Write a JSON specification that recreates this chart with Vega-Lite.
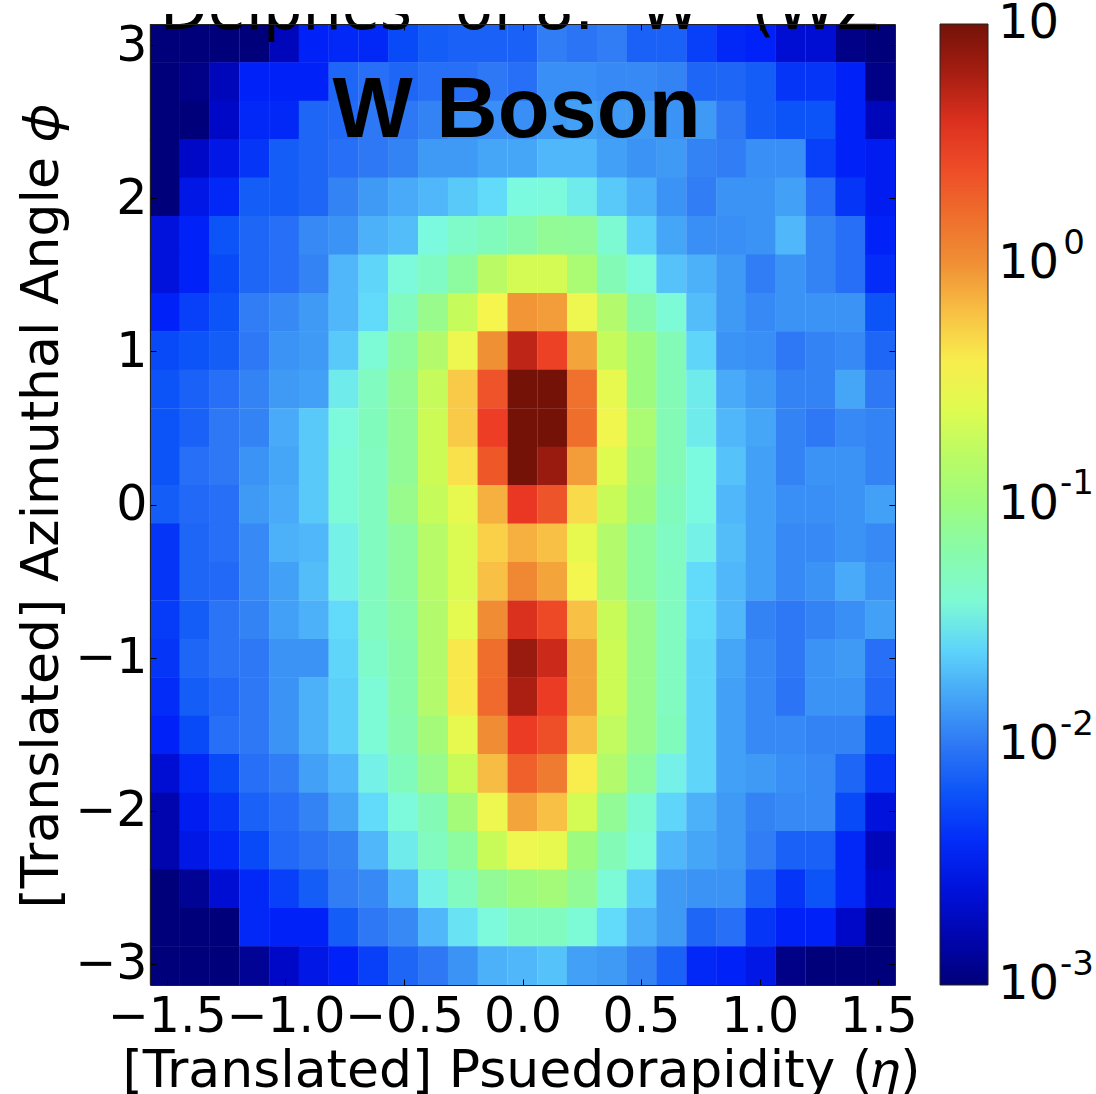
{"$schema":"https://vega.github.io/schema/vega-lite/v6.json","autosize":"none","padding":{"left":150,"top":24,"right":201,"bottom":109},"width":745,"height":961,"background":"white","config":{"view":{"stroke":null},"font":"DejaVu Sans"},
"datasets":{"cells":[
{"eta":-1.508,"phi":3.014,"v":-3},{"eta":-1.382,"phi":3.014,"v":-3},{"eta":-1.257,"phi":3.014,"v":-3},{"eta":-1.131,"phi":3.014,"v":-3},{"eta":-1.005,"phi":3.014,"v":-2.75},{"eta":-0.88,"phi":3.014,"v":-2.45},{"eta":-0.754,"phi":3.014,"v":-2.42},{"eta":-0.628,"phi":3.014,"v":-2.42},{"eta":-0.503,"phi":3.014,"v":-2.25},{"eta":-0.377,"phi":3.014,"v":-2.15},{"eta":-0.251,"phi":3.014,"v":-2.12},{"eta":-0.126,"phi":3.014,"v":-2.12},{"eta":0,"phi":3.014,"v":-2.12},{"eta":0.126,"phi":3.014,"v":-1.98},{"eta":0.251,"phi":3.014,"v":-2.02},{"eta":0.377,"phi":3.014,"v":-1.98},{"eta":0.503,"phi":3.014,"v":-2.12},{"eta":0.628,"phi":3.014,"v":-2.12},{"eta":0.754,"phi":3.014,"v":-2.3},{"eta":0.88,"phi":3.014,"v":-2.42},{"eta":1.005,"phi":3.014,"v":-2.45},{"eta":1.131,"phi":3.014,"v":-2.65},{"eta":1.257,"phi":3.014,"v":-2.65},{"eta":1.382,"phi":3.014,"v":-2.95},{"eta":1.508,"phi":3.014,"v":-3},
{"eta":-1.508,"phi":2.763,"v":-3},{"eta":-1.382,"phi":2.763,"v":-2.95},{"eta":-1.257,"phi":2.763,"v":-2.75},{"eta":-1.131,"phi":2.763,"v":-2.45},{"eta":-1.005,"phi":2.763,"v":-2.45},{"eta":-0.88,"phi":2.763,"v":-2.45},{"eta":-0.754,"phi":2.763,"v":-2.1},{"eta":-0.628,"phi":2.763,"v":-2.05},{"eta":-0.503,"phi":2.763,"v":-2.1},{"eta":-0.377,"phi":2.763,"v":-2.05},{"eta":-0.251,"phi":2.763,"v":-2.05},{"eta":-0.126,"phi":2.763,"v":-2},{"eta":0,"phi":2.763,"v":-2.05},{"eta":0.126,"phi":2.763,"v":-1.9},{"eta":0.251,"phi":2.763,"v":-1.9},{"eta":0.377,"phi":2.763,"v":-1.92},{"eta":0.503,"phi":2.763,"v":-1.92},{"eta":0.628,"phi":2.763,"v":-1.95},{"eta":0.754,"phi":2.763,"v":-2.1},{"eta":0.88,"phi":2.763,"v":-2.1},{"eta":1.005,"phi":2.763,"v":-2.15},{"eta":1.131,"phi":2.763,"v":-2.35},{"eta":1.257,"phi":2.763,"v":-2.35},{"eta":1.382,"phi":2.763,"v":-2.45},{"eta":1.508,"phi":2.763,"v":-2.95},
{"eta":-1.508,"phi":2.512,"v":-3},{"eta":-1.382,"phi":2.512,"v":-3},{"eta":-1.257,"phi":2.512,"v":-2.7},{"eta":-1.131,"phi":2.512,"v":-2.42},{"eta":-1.005,"phi":2.512,"v":-2.42},{"eta":-0.88,"phi":2.512,"v":-2.1},{"eta":-0.754,"phi":2.512,"v":-2.08},{"eta":-0.628,"phi":2.512,"v":-2},{"eta":-0.503,"phi":2.512,"v":-2},{"eta":-0.377,"phi":2.512,"v":-1.95},{"eta":-0.251,"phi":2.512,"v":-1.9},{"eta":-0.126,"phi":2.512,"v":-1.9},{"eta":0,"phi":2.512,"v":-1.9},{"eta":0.126,"phi":2.512,"v":-1.85},{"eta":0.251,"phi":2.512,"v":-1.82},{"eta":0.377,"phi":2.512,"v":-1.85},{"eta":0.503,"phi":2.512,"v":-1.85},{"eta":0.628,"phi":2.512,"v":-1.88},{"eta":0.754,"phi":2.512,"v":-1.85},{"eta":0.88,"phi":2.512,"v":-2},{"eta":1.005,"phi":2.512,"v":-2.15},{"eta":1.131,"phi":2.512,"v":-2.2},{"eta":1.257,"phi":2.512,"v":-2.2},{"eta":1.382,"phi":2.512,"v":-2.45},{"eta":1.508,"phi":2.512,"v":-2.75},
{"eta":-1.508,"phi":2.261,"v":-3},{"eta":-1.382,"phi":2.261,"v":-2.7},{"eta":-1.257,"phi":2.261,"v":-2.55},{"eta":-1.131,"phi":2.261,"v":-2.35},{"eta":-1.005,"phi":2.261,"v":-2.15},{"eta":-0.88,"phi":2.261,"v":-2.1},{"eta":-0.754,"phi":2.261,"v":-2.05},{"eta":-0.628,"phi":2.261,"v":-2},{"eta":-0.503,"phi":2.261,"v":-1.95},{"eta":-0.377,"phi":2.261,"v":-1.85},{"eta":-0.251,"phi":2.261,"v":-1.85},{"eta":-0.126,"phi":2.261,"v":-1.8},{"eta":0,"phi":2.261,"v":-1.8},{"eta":0.126,"phi":2.261,"v":-1.72},{"eta":0.251,"phi":2.261,"v":-1.72},{"eta":0.377,"phi":2.261,"v":-1.82},{"eta":0.503,"phi":2.261,"v":-1.88},{"eta":0.628,"phi":2.261,"v":-1.85},{"eta":0.754,"phi":2.261,"v":-1.95},{"eta":0.88,"phi":2.261,"v":-1.98},{"eta":1.005,"phi":2.261,"v":-1.9},{"eta":1.131,"phi":2.261,"v":-1.9},{"eta":1.257,"phi":2.261,"v":-2.3},{"eta":1.382,"phi":2.261,"v":-2.45},{"eta":1.508,"phi":2.261,"v":-2.5},
{"eta":-1.508,"phi":2.01,"v":-3},{"eta":-1.382,"phi":2.01,"v":-2.55},{"eta":-1.257,"phi":2.01,"v":-2.42},{"eta":-1.131,"phi":2.01,"v":-2.15},{"eta":-1.005,"phi":2.01,"v":-2.15},{"eta":-0.88,"phi":2.01,"v":-2.1},{"eta":-0.754,"phi":2.01,"v":-1.95},{"eta":-0.628,"phi":2.01,"v":-1.85},{"eta":-0.503,"phi":2.01,"v":-1.78},{"eta":-0.377,"phi":2.01,"v":-1.72},{"eta":-0.251,"phi":2.01,"v":-1.65},{"eta":-0.126,"phi":2.01,"v":-1.58},{"eta":0,"phi":2.01,"v":-1.47},{"eta":0.126,"phi":2.01,"v":-1.45},{"eta":0.251,"phi":2.01,"v":-1.52},{"eta":0.377,"phi":2.01,"v":-1.65},{"eta":0.503,"phi":2.01,"v":-1.75},{"eta":0.628,"phi":2.01,"v":-1.88},{"eta":0.754,"phi":2.01,"v":-1.98},{"eta":0.88,"phi":2.01,"v":-1.88},{"eta":1.005,"phi":2.01,"v":-1.88},{"eta":1.131,"phi":2.01,"v":-1.82},{"eta":1.257,"phi":2.01,"v":-2.05},{"eta":1.382,"phi":2.01,"v":-2.35},{"eta":1.508,"phi":2.01,"v":-2.5},
{"eta":-1.508,"phi":1.758,"v":-2.6},{"eta":-1.382,"phi":1.758,"v":-2.45},{"eta":-1.257,"phi":1.758,"v":-2.2},{"eta":-1.131,"phi":1.758,"v":-2.1},{"eta":-1.005,"phi":1.758,"v":-2.05},{"eta":-0.88,"phi":1.758,"v":-1.92},{"eta":-0.754,"phi":1.758,"v":-1.88},{"eta":-0.628,"phi":1.758,"v":-1.75},{"eta":-0.503,"phi":1.758,"v":-1.7},{"eta":-0.377,"phi":1.758,"v":-1.47},{"eta":-0.251,"phi":1.758,"v":-1.35},{"eta":-0.126,"phi":1.758,"v":-1.28},{"eta":0,"phi":1.758,"v":-1.2},{"eta":0.126,"phi":1.758,"v":-1.1},{"eta":0.251,"phi":1.758,"v":-1.12},{"eta":0.377,"phi":1.758,"v":-1.4},{"eta":0.503,"phi":1.758,"v":-1.62},{"eta":0.628,"phi":1.758,"v":-1.8},{"eta":0.754,"phi":1.758,"v":-1.9},{"eta":0.88,"phi":1.758,"v":-1.9},{"eta":1.005,"phi":1.758,"v":-1.88},{"eta":1.131,"phi":1.758,"v":-1.72},{"eta":1.257,"phi":1.758,"v":-1.95},{"eta":1.382,"phi":1.758,"v":-2.05},{"eta":1.508,"phi":1.758,"v":-2.45},
{"eta":-1.508,"phi":1.507,"v":-2.6},{"eta":-1.382,"phi":1.507,"v":-2.45},{"eta":-1.257,"phi":1.507,"v":-2.25},{"eta":-1.131,"phi":1.507,"v":-2.1},{"eta":-1.005,"phi":1.507,"v":-2.05},{"eta":-0.88,"phi":1.507,"v":-1.95},{"eta":-0.754,"phi":1.507,"v":-1.72},{"eta":-0.628,"phi":1.507,"v":-1.6},{"eta":-0.503,"phi":1.507,"v":-1.45},{"eta":-0.377,"phi":1.507,"v":-1.32},{"eta":-0.251,"phi":1.507,"v":-1.15},{"eta":-0.126,"phi":1.507,"v":-0.8},{"eta":0,"phi":1.507,"v":-0.65},{"eta":0.126,"phi":1.507,"v":-0.65},{"eta":0.251,"phi":1.507,"v":-0.9},{"eta":0.377,"phi":1.507,"v":-1.25},{"eta":0.503,"phi":1.507,"v":-1.45},{"eta":0.628,"phi":1.507,"v":-1.68},{"eta":0.754,"phi":1.507,"v":-1.75},{"eta":0.88,"phi":1.507,"v":-1.85},{"eta":1.005,"phi":1.507,"v":-1.98},{"eta":1.131,"phi":1.507,"v":-1.88},{"eta":1.257,"phi":1.507,"v":-1.95},{"eta":1.382,"phi":1.507,"v":-2.05},{"eta":1.508,"phi":1.507,"v":-2.4},
{"eta":-1.508,"phi":1.256,"v":-2.45},{"eta":-1.382,"phi":1.256,"v":-2.3},{"eta":-1.257,"phi":1.256,"v":-2.2},{"eta":-1.131,"phi":1.256,"v":-1.98},{"eta":-1.005,"phi":1.256,"v":-1.92},{"eta":-0.88,"phi":1.256,"v":-1.85},{"eta":-0.754,"phi":1.256,"v":-1.72},{"eta":-0.628,"phi":1.256,"v":-1.58},{"eta":-0.503,"phi":1.256,"v":-1.3},{"eta":-0.377,"phi":1.256,"v":-1.05},{"eta":-0.251,"phi":1.256,"v":-0.72},{"eta":-0.126,"phi":1.256,"v":-0.45},{"eta":0,"phi":1.256,"v":-0.02},{"eta":0.126,"phi":1.256,"v":-0.05},{"eta":0.251,"phi":1.256,"v":-0.5},{"eta":0.377,"phi":1.256,"v":-0.85},{"eta":0.503,"phi":1.256,"v":-1.2},{"eta":0.628,"phi":1.256,"v":-1.42},{"eta":0.754,"phi":1.256,"v":-1.7},{"eta":0.88,"phi":1.256,"v":-1.85},{"eta":1.005,"phi":1.256,"v":-1.92},{"eta":1.131,"phi":1.256,"v":-1.88},{"eta":1.257,"phi":1.256,"v":-1.88},{"eta":1.382,"phi":1.256,"v":-1.88},{"eta":1.508,"phi":1.256,"v":-2.2},
{"eta":-1.508,"phi":1.005,"v":-2.25},{"eta":-1.382,"phi":1.005,"v":-2.2},{"eta":-1.257,"phi":1.005,"v":-2.15},{"eta":-1.131,"phi":1.005,"v":-2},{"eta":-1.005,"phi":1.005,"v":-1.88},{"eta":-0.88,"phi":1.005,"v":-1.85},{"eta":-0.754,"phi":1.005,"v":-1.65},{"eta":-0.628,"phi":1.005,"v":-1.42},{"eta":-0.503,"phi":1.005,"v":-1.15},{"eta":-0.377,"phi":1.005,"v":-0.85},{"eta":-0.251,"phi":1.005,"v":-0.5},{"eta":-0.126,"phi":1.005,"v":0},{"eta":0,"phi":1.005,"v":0.7},{"eta":0.126,"phi":1.005,"v":0.48},{"eta":0.251,"phi":1.005,"v":-0.08},{"eta":0.377,"phi":1.005,"v":-0.72},{"eta":0.503,"phi":1.005,"v":-1},{"eta":0.628,"phi":1.005,"v":-1.25},{"eta":0.754,"phi":1.005,"v":-1.6},{"eta":0.88,"phi":1.005,"v":-1.88},{"eta":1.005,"phi":1.005,"v":-1.9},{"eta":1.131,"phi":1.005,"v":-2},{"eta":1.257,"phi":1.005,"v":-1.95},{"eta":1.382,"phi":1.005,"v":-1.92},{"eta":1.508,"phi":1.005,"v":-2.1},
{"eta":-1.508,"phi":0.754,"v":-2.2},{"eta":-1.382,"phi":0.754,"v":-2.12},{"eta":-1.257,"phi":0.754,"v":-2.05},{"eta":-1.131,"phi":0.754,"v":-1.95},{"eta":-1.005,"phi":0.754,"v":-1.85},{"eta":-0.88,"phi":0.754,"v":-1.82},{"eta":-0.754,"phi":0.754,"v":-1.52},{"eta":-0.628,"phi":0.754,"v":-1.3},{"eta":-0.503,"phi":0.754,"v":-1.1},{"eta":-0.377,"phi":0.754,"v":-0.72},{"eta":-0.251,"phi":0.754,"v":-0.25},{"eta":-0.126,"phi":0.754,"v":0.36},{"eta":0,"phi":0.754,"v":1},{"eta":0.126,"phi":0.754,"v":1},{"eta":0.251,"phi":0.754,"v":0.18},{"eta":0.377,"phi":0.754,"v":-0.55},{"eta":0.503,"phi":0.754,"v":-1},{"eta":0.628,"phi":0.754,"v":-1.25},{"eta":0.754,"phi":0.754,"v":-1.52},{"eta":0.88,"phi":0.754,"v":-1.78},{"eta":1.005,"phi":0.754,"v":-1.85},{"eta":1.131,"phi":0.754,"v":-1.95},{"eta":1.257,"phi":0.754,"v":-1.95},{"eta":1.382,"phi":0.754,"v":-1.8},{"eta":1.508,"phi":0.754,"v":-2},
{"eta":-1.508,"phi":0.502,"v":-2.2},{"eta":-1.382,"phi":0.502,"v":-2.12},{"eta":-1.257,"phi":0.502,"v":-2},{"eta":-1.131,"phi":0.502,"v":-1.95},{"eta":-1.005,"phi":0.502,"v":-1.78},{"eta":-0.88,"phi":0.502,"v":-1.65},{"eta":-0.754,"phi":0.502,"v":-1.45},{"eta":-0.628,"phi":0.502,"v":-1.28},{"eta":-0.503,"phi":0.502,"v":-1.1},{"eta":-0.377,"phi":0.502,"v":-0.68},{"eta":-0.251,"phi":0.502,"v":-0.25},{"eta":-0.126,"phi":0.502,"v":0.5},{"eta":0,"phi":0.502,"v":1},{"eta":0.126,"phi":0.502,"v":1},{"eta":0.251,"phi":0.502,"v":0.2},{"eta":0.377,"phi":0.502,"v":-0.48},{"eta":0.503,"phi":0.502,"v":-0.9},{"eta":0.628,"phi":0.502,"v":-1.25},{"eta":0.754,"phi":0.502,"v":-1.52},{"eta":0.88,"phi":0.502,"v":-1.72},{"eta":1.005,"phi":0.502,"v":-1.8},{"eta":1.131,"phi":0.502,"v":-1.95},{"eta":1.257,"phi":0.502,"v":-2},{"eta":1.382,"phi":0.502,"v":-1.92},{"eta":1.508,"phi":0.502,"v":-1.95},
{"eta":-1.508,"phi":0.251,"v":-2.2},{"eta":-1.382,"phi":0.251,"v":-2.05},{"eta":-1.257,"phi":0.251,"v":-2},{"eta":-1.131,"phi":0.251,"v":-1.88},{"eta":-1.005,"phi":0.251,"v":-1.8},{"eta":-0.88,"phi":0.251,"v":-1.65},{"eta":-0.754,"phi":0.251,"v":-1.42},{"eta":-0.628,"phi":0.251,"v":-1.3},{"eta":-0.503,"phi":0.251,"v":-1.1},{"eta":-0.377,"phi":0.251,"v":-0.68},{"eta":-0.251,"phi":0.251,"v":-0.35},{"eta":-0.126,"phi":0.251,"v":0.33},{"eta":0,"phi":0.251,"v":1},{"eta":0.126,"phi":0.251,"v":0.85},{"eta":0.251,"phi":0.251,"v":-0.05},{"eta":0.377,"phi":0.251,"v":-0.6},{"eta":0.503,"phi":0.251,"v":-0.95},{"eta":0.628,"phi":0.251,"v":-1.25},{"eta":0.754,"phi":0.251,"v":-1.47},{"eta":0.88,"phi":0.251,"v":-1.68},{"eta":1.005,"phi":0.251,"v":-1.82},{"eta":1.131,"phi":0.251,"v":-1.95},{"eta":1.257,"phi":0.251,"v":-1.88},{"eta":1.382,"phi":0.251,"v":-1.88},{"eta":1.508,"phi":0.251,"v":-1.95},
{"eta":-1.508,"phi":0,"v":-2.15},{"eta":-1.382,"phi":0,"v":-2.08},{"eta":-1.257,"phi":0,"v":-2.05},{"eta":-1.131,"phi":0,"v":-1.85},{"eta":-1.005,"phi":0,"v":-1.78},{"eta":-0.88,"phi":0,"v":-1.65},{"eta":-0.754,"phi":0,"v":-1.42},{"eta":-0.628,"phi":0,"v":-1.3},{"eta":-0.503,"phi":0,"v":-1.05},{"eta":-0.377,"phi":0,"v":-0.72},{"eta":-0.251,"phi":0,"v":-0.55},{"eta":-0.126,"phi":0,"v":-0.12},{"eta":0,"phi":0,"v":0.55},{"eta":0.126,"phi":0,"v":0.35},{"eta":0.251,"phi":0,"v":-0.32},{"eta":0.377,"phi":0,"v":-0.7},{"eta":0.503,"phi":0,"v":-1},{"eta":0.628,"phi":0,"v":-1.28},{"eta":0.754,"phi":0,"v":-1.47},{"eta":0.88,"phi":0,"v":-1.72},{"eta":1.005,"phi":0,"v":-1.82},{"eta":1.131,"phi":0,"v":-1.9},{"eta":1.257,"phi":0,"v":-1.9},{"eta":1.382,"phi":0,"v":-1.88},{"eta":1.508,"phi":0,"v":-1.82},
{"eta":-1.508,"phi":-0.251,"v":-2.35},{"eta":-1.382,"phi":-0.251,"v":-2.1},{"eta":-1.257,"phi":-0.251,"v":-2.05},{"eta":-1.131,"phi":-0.251,"v":-1.92},{"eta":-1.005,"phi":-0.251,"v":-1.75},{"eta":-0.88,"phi":-0.251,"v":-1.72},{"eta":-0.754,"phi":-0.251,"v":-1.5},{"eta":-0.628,"phi":-0.251,"v":-1.3},{"eta":-0.503,"phi":-0.251,"v":-1.15},{"eta":-0.377,"phi":-0.251,"v":-0.82},{"eta":-0.251,"phi":-0.251,"v":-0.62},{"eta":-0.126,"phi":-0.251,"v":-0.28},{"eta":0,"phi":-0.251,"v":-0.12},{"eta":0.126,"phi":-0.251,"v":-0.2},{"eta":0.251,"phi":-0.251,"v":-0.55},{"eta":0.377,"phi":-0.251,"v":-0.85},{"eta":0.503,"phi":-0.251,"v":-1.15},{"eta":0.628,"phi":-0.251,"v":-1.32},{"eta":0.754,"phi":-0.251,"v":-1.5},{"eta":0.88,"phi":-0.251,"v":-1.7},{"eta":1.005,"phi":-0.251,"v":-1.82},{"eta":1.131,"phi":-0.251,"v":-1.92},{"eta":1.257,"phi":-0.251,"v":-1.92},{"eta":1.382,"phi":-0.251,"v":-1.88},{"eta":1.508,"phi":-0.251,"v":-1.92},
{"eta":-1.508,"phi":-0.502,"v":-2.35},{"eta":-1.382,"phi":-0.502,"v":-2.1},{"eta":-1.257,"phi":-0.502,"v":-2.08},{"eta":-1.131,"phi":-0.502,"v":-1.92},{"eta":-1.005,"phi":-0.502,"v":-1.82},{"eta":-0.88,"phi":-0.502,"v":-1.7},{"eta":-0.754,"phi":-0.502,"v":-1.5},{"eta":-0.628,"phi":-0.502,"v":-1.3},{"eta":-0.503,"phi":-0.502,"v":-1.15},{"eta":-0.377,"phi":-0.502,"v":-0.82},{"eta":-0.251,"phi":-0.502,"v":-0.62},{"eta":-0.126,"phi":-0.502,"v":-0.2},{"eta":0,"phi":-0.502,"v":0.05},{"eta":0.126,"phi":-0.502,"v":-0.08},{"eta":0.251,"phi":-0.502,"v":-0.47},{"eta":0.377,"phi":-0.502,"v":-0.85},{"eta":0.503,"phi":-0.502,"v":-1.15},{"eta":0.628,"phi":-0.502,"v":-1.3},{"eta":0.754,"phi":-0.502,"v":-1.58},{"eta":0.88,"phi":-0.502,"v":-1.72},{"eta":1.005,"phi":-0.502,"v":-1.82},{"eta":1.131,"phi":-0.502,"v":-1.92},{"eta":1.257,"phi":-0.502,"v":-1.88},{"eta":1.382,"phi":-0.502,"v":-1.78},{"eta":1.508,"phi":-0.502,"v":-1.88},
{"eta":-1.508,"phi":-0.754,"v":-2.32},{"eta":-1.382,"phi":-0.754,"v":-2.15},{"eta":-1.257,"phi":-0.754,"v":-2.02},{"eta":-1.131,"phi":-0.754,"v":-1.95},{"eta":-1.005,"phi":-0.754,"v":-1.82},{"eta":-0.88,"phi":-0.754,"v":-1.75},{"eta":-0.754,"phi":-0.754,"v":-1.58},{"eta":-0.628,"phi":-0.754,"v":-1.3},{"eta":-0.503,"phi":-0.754,"v":-1.18},{"eta":-0.377,"phi":-0.754,"v":-0.85},{"eta":-0.251,"phi":-0.754,"v":-0.57},{"eta":-0.126,"phi":-0.754,"v":0.02},{"eta":0,"phi":-0.754,"v":0.6},{"eta":0.126,"phi":-0.754,"v":0.42},{"eta":0.251,"phi":-0.754,"v":-0.2},{"eta":0.377,"phi":-0.754,"v":-0.7},{"eta":0.503,"phi":-0.754,"v":-1.05},{"eta":0.628,"phi":-0.754,"v":-1.3},{"eta":0.754,"phi":-0.754,"v":-1.58},{"eta":0.88,"phi":-0.754,"v":-1.72},{"eta":1.005,"phi":-0.754,"v":-1.95},{"eta":1.131,"phi":-0.754,"v":-2},{"eta":1.257,"phi":-0.754,"v":-1.95},{"eta":1.382,"phi":-0.754,"v":-1.9},{"eta":1.508,"phi":-0.754,"v":-1.82},
{"eta":-1.508,"phi":-1.005,"v":-2.35},{"eta":-1.382,"phi":-1.005,"v":-2.1},{"eta":-1.257,"phi":-1.005,"v":-2.02},{"eta":-1.131,"phi":-1.005,"v":-2},{"eta":-1.005,"phi":-1.005,"v":-1.88},{"eta":-0.88,"phi":-1.005,"v":-1.88},{"eta":-0.754,"phi":-1.005,"v":-1.6},{"eta":-0.628,"phi":-1.005,"v":-1.35},{"eta":-0.503,"phi":-1.005,"v":-1.2},{"eta":-0.377,"phi":-1.005,"v":-0.85},{"eta":-0.251,"phi":-1.005,"v":-0.38},{"eta":-0.126,"phi":-1.005,"v":0.2},{"eta":0,"phi":-1.005,"v":0.85},{"eta":0.126,"phi":-1.005,"v":0.65},{"eta":0.251,"phi":-1.005,"v":-0.08},{"eta":0.377,"phi":-1.005,"v":-0.68},{"eta":0.503,"phi":-1.005,"v":-1.05},{"eta":0.628,"phi":-1.005,"v":-1.3},{"eta":0.754,"phi":-1.005,"v":-1.6},{"eta":0.88,"phi":-1.005,"v":-1.8},{"eta":1.005,"phi":-1.005,"v":-1.92},{"eta":1.131,"phi":-1.005,"v":-2},{"eta":1.257,"phi":-1.005,"v":-1.88},{"eta":1.382,"phi":-1.005,"v":-1.85},{"eta":1.508,"phi":-1.005,"v":-2.05},
{"eta":-1.508,"phi":-1.256,"v":-2.4},{"eta":-1.382,"phi":-1.256,"v":-2.15},{"eta":-1.257,"phi":-1.256,"v":-2.08},{"eta":-1.131,"phi":-1.256,"v":-2},{"eta":-1.005,"phi":-1.256,"v":-1.88},{"eta":-0.88,"phi":-1.256,"v":-1.75},{"eta":-0.754,"phi":-1.256,"v":-1.62},{"eta":-0.628,"phi":-1.256,"v":-1.42},{"eta":-0.503,"phi":-1.256,"v":-1.2},{"eta":-0.377,"phi":-1.256,"v":-0.85},{"eta":-0.251,"phi":-1.256,"v":-0.38},{"eta":-0.126,"phi":-1.256,"v":0.22},{"eta":0,"phi":-1.256,"v":0.78},{"eta":0.126,"phi":-1.256,"v":0.52},{"eta":0.251,"phi":-1.256,"v":-0.08},{"eta":0.377,"phi":-1.256,"v":-0.68},{"eta":0.503,"phi":-1.256,"v":-1.05},{"eta":0.628,"phi":-1.256,"v":-1.3},{"eta":0.754,"phi":-1.256,"v":-1.6},{"eta":0.88,"phi":-1.256,"v":-1.82},{"eta":1.005,"phi":-1.256,"v":-1.92},{"eta":1.131,"phi":-1.256,"v":-2.02},{"eta":1.257,"phi":-1.256,"v":-1.88},{"eta":1.382,"phi":-1.256,"v":-1.88},{"eta":1.508,"phi":-1.256,"v":-2.08},
{"eta":-1.508,"phi":-1.507,"v":-2.45},{"eta":-1.382,"phi":-1.507,"v":-2.25},{"eta":-1.257,"phi":-1.507,"v":-2.05},{"eta":-1.131,"phi":-1.507,"v":-2},{"eta":-1.005,"phi":-1.507,"v":-1.88},{"eta":-0.88,"phi":-1.507,"v":-1.75},{"eta":-0.754,"phi":-1.507,"v":-1.62},{"eta":-0.628,"phi":-1.507,"v":-1.42},{"eta":-0.503,"phi":-1.507,"v":-1.22},{"eta":-0.377,"phi":-1.507,"v":-0.95},{"eta":-0.251,"phi":-1.507,"v":-0.55},{"eta":-0.126,"phi":-1.507,"v":0.02},{"eta":0,"phi":-1.507,"v":0.52},{"eta":0.126,"phi":-1.507,"v":0.38},{"eta":0.251,"phi":-1.507,"v":-0.2},{"eta":0.377,"phi":-1.507,"v":-0.75},{"eta":0.503,"phi":-1.507,"v":-1.05},{"eta":0.628,"phi":-1.507,"v":-1.28},{"eta":0.754,"phi":-1.507,"v":-1.6},{"eta":0.88,"phi":-1.507,"v":-1.82},{"eta":1.005,"phi":-1.507,"v":-1.92},{"eta":1.131,"phi":-1.507,"v":-1.92},{"eta":1.257,"phi":-1.507,"v":-1.95},{"eta":1.382,"phi":-1.507,"v":-1.95},{"eta":1.508,"phi":-1.507,"v":-2.22},
{"eta":-1.508,"phi":-1.758,"v":-2.65},{"eta":-1.382,"phi":-1.758,"v":-2.42},{"eta":-1.257,"phi":-1.758,"v":-2.25},{"eta":-1.131,"phi":-1.758,"v":-2.05},{"eta":-1.005,"phi":-1.758,"v":-1.98},{"eta":-0.88,"phi":-1.758,"v":-1.82},{"eta":-0.754,"phi":-1.758,"v":-1.72},{"eta":-0.628,"phi":-1.758,"v":-1.5},{"eta":-0.503,"phi":-1.758,"v":-1.28},{"eta":-0.377,"phi":-1.758,"v":-1.05},{"eta":-0.251,"phi":-1.758,"v":-0.7},{"eta":-0.126,"phi":-1.758,"v":-0.18},{"eta":0,"phi":-1.758,"v":0.28},{"eta":0.126,"phi":-1.758,"v":0.12},{"eta":0.251,"phi":-1.758,"v":-0.4},{"eta":0.377,"phi":-1.758,"v":-0.85},{"eta":0.503,"phi":-1.758,"v":-1.15},{"eta":0.628,"phi":-1.758,"v":-1.5},{"eta":0.754,"phi":-1.758,"v":-1.6},{"eta":0.88,"phi":-1.758,"v":-1.82},{"eta":1.005,"phi":-1.758,"v":-1.85},{"eta":1.131,"phi":-1.758,"v":-1.9},{"eta":1.257,"phi":-1.758,"v":-1.92},{"eta":1.382,"phi":-1.758,"v":-2.1},{"eta":1.508,"phi":-1.758,"v":-2.35},
{"eta":-1.508,"phi":-2.01,"v":-2.8},{"eta":-1.382,"phi":-2.01,"v":-2.5},{"eta":-1.257,"phi":-2.01,"v":-2.35},{"eta":-1.131,"phi":-2.01,"v":-2.12},{"eta":-1.005,"phi":-2.01,"v":-2.05},{"eta":-0.88,"phi":-2.01,"v":-1.95},{"eta":-0.754,"phi":-2.01,"v":-1.8},{"eta":-0.628,"phi":-2.01,"v":-1.58},{"eta":-0.503,"phi":-2.01,"v":-1.45},{"eta":-0.377,"phi":-2.01,"v":-1.25},{"eta":-0.251,"phi":-2.01,"v":-0.95},{"eta":-0.126,"phi":-2.01,"v":-0.5},{"eta":0,"phi":-2.01,"v":-0.08},{"eta":0.126,"phi":-2.01,"v":-0.2},{"eta":0.251,"phi":-2.01,"v":-0.65},{"eta":0.377,"phi":-2.01,"v":-1.1},{"eta":0.503,"phi":-2.01,"v":-1.4},{"eta":0.628,"phi":-2.01,"v":-1.6},{"eta":0.754,"phi":-2.01,"v":-1.75},{"eta":0.88,"phi":-2.01,"v":-1.85},{"eta":1.005,"phi":-2.01,"v":-1.95},{"eta":1.131,"phi":-2.01,"v":-1.92},{"eta":1.257,"phi":-2.01,"v":-1.92},{"eta":1.382,"phi":-2.01,"v":-2.25},{"eta":1.508,"phi":-2.01,"v":-2.6},
{"eta":-1.508,"phi":-2.261,"v":-2.8},{"eta":-1.382,"phi":-2.261,"v":-2.55},{"eta":-1.257,"phi":-2.261,"v":-2.42},{"eta":-1.131,"phi":-2.261,"v":-2.25},{"eta":-1.005,"phi":-2.261,"v":-2.08},{"eta":-0.88,"phi":-2.261,"v":-2.02},{"eta":-0.754,"phi":-2.261,"v":-1.95},{"eta":-0.628,"phi":-2.261,"v":-1.72},{"eta":-0.503,"phi":-2.261,"v":-1.52},{"eta":-0.377,"phi":-2.261,"v":-1.3},{"eta":-0.251,"phi":-2.261,"v":-1.15},{"eta":-0.126,"phi":-2.261,"v":-0.7},{"eta":0,"phi":-2.261,"v":-0.5},{"eta":0.126,"phi":-2.261,"v":-0.55},{"eta":0.251,"phi":-2.261,"v":-1},{"eta":0.377,"phi":-2.261,"v":-1.25},{"eta":0.503,"phi":-2.261,"v":-1.45},{"eta":0.628,"phi":-2.261,"v":-1.72},{"eta":0.754,"phi":-2.261,"v":-1.8},{"eta":0.88,"phi":-2.261,"v":-1.85},{"eta":1.005,"phi":-2.261,"v":-1.98},{"eta":1.131,"phi":-2.261,"v":-2.12},{"eta":1.257,"phi":-2.261,"v":-2.12},{"eta":1.382,"phi":-2.261,"v":-2.42},{"eta":1.508,"phi":-2.261,"v":-2.75},
{"eta":-1.508,"phi":-2.512,"v":-3},{"eta":-1.382,"phi":-2.512,"v":-2.9},{"eta":-1.257,"phi":-2.512,"v":-2.65},{"eta":-1.131,"phi":-2.512,"v":-2.42},{"eta":-1.005,"phi":-2.512,"v":-2.3},{"eta":-0.88,"phi":-2.512,"v":-2.15},{"eta":-0.754,"phi":-2.512,"v":-1.98},{"eta":-0.628,"phi":-2.512,"v":-1.92},{"eta":-0.503,"phi":-2.512,"v":-1.72},{"eta":-0.377,"phi":-2.512,"v":-1.5},{"eta":-0.251,"phi":-2.512,"v":-1.3},{"eta":-0.126,"phi":-2.512,"v":-1.1},{"eta":0,"phi":-2.512,"v":-1},{"eta":0.126,"phi":-2.512,"v":-0.95},{"eta":0.251,"phi":-2.512,"v":-1.1},{"eta":0.377,"phi":-2.512,"v":-1.42},{"eta":0.503,"phi":-2.512,"v":-1.62},{"eta":0.628,"phi":-2.512,"v":-1.85},{"eta":0.754,"phi":-2.512,"v":-1.88},{"eta":0.88,"phi":-2.512,"v":-1.88},{"eta":1.005,"phi":-2.512,"v":-2.12},{"eta":1.131,"phi":-2.512,"v":-2.35},{"eta":1.257,"phi":-2.512,"v":-2.2},{"eta":1.382,"phi":-2.512,"v":-2.42},{"eta":1.508,"phi":-2.512,"v":-2.7},
{"eta":-1.508,"phi":-2.763,"v":-3},{"eta":-1.382,"phi":-2.763,"v":-3},{"eta":-1.257,"phi":-2.763,"v":-3},{"eta":-1.131,"phi":-2.763,"v":-2.42},{"eta":-1.005,"phi":-2.763,"v":-2.45},{"eta":-0.88,"phi":-2.763,"v":-2.45},{"eta":-0.754,"phi":-2.763,"v":-2.15},{"eta":-0.628,"phi":-2.763,"v":-2},{"eta":-0.503,"phi":-2.763,"v":-1.92},{"eta":-0.377,"phi":-2.763,"v":-1.72},{"eta":-0.251,"phi":-2.763,"v":-1.55},{"eta":-0.126,"phi":-2.763,"v":-1.45},{"eta":0,"phi":-2.763,"v":-1.3},{"eta":0.126,"phi":-2.763,"v":-1.3},{"eta":0.251,"phi":-2.763,"v":-1.42},{"eta":0.377,"phi":-2.763,"v":-1.58},{"eta":0.503,"phi":-2.763,"v":-1.75},{"eta":0.628,"phi":-2.763,"v":-1.85},{"eta":0.754,"phi":-2.763,"v":-2.1},{"eta":0.88,"phi":-2.763,"v":-2.05},{"eta":1.005,"phi":-2.763,"v":-2.35},{"eta":1.131,"phi":-2.763,"v":-2.45},{"eta":1.257,"phi":-2.763,"v":-2.45},{"eta":1.382,"phi":-2.763,"v":-2.7},{"eta":1.508,"phi":-2.763,"v":-3},
{"eta":-1.508,"phi":-3.014,"v":-3},{"eta":-1.382,"phi":-3.014,"v":-3},{"eta":-1.257,"phi":-3.014,"v":-3},{"eta":-1.131,"phi":-3.014,"v":-2.9},{"eta":-1.005,"phi":-3.014,"v":-2.7},{"eta":-0.88,"phi":-3.014,"v":-2.55},{"eta":-0.754,"phi":-3.014,"v":-2.45},{"eta":-0.628,"phi":-3.014,"v":-2.3},{"eta":-0.503,"phi":-3.014,"v":-2.1},{"eta":-0.377,"phi":-3.014,"v":-2},{"eta":-0.251,"phi":-3.014,"v":-1.88},{"eta":-0.126,"phi":-3.014,"v":-1.75},{"eta":0,"phi":-3.014,"v":-1.72},{"eta":0.126,"phi":-3.014,"v":-1.68},{"eta":0.251,"phi":-3.014,"v":-1.82},{"eta":0.377,"phi":-3.014,"v":-1.85},{"eta":0.503,"phi":-3.014,"v":-1.95},{"eta":0.628,"phi":-3.014,"v":-2.12},{"eta":0.754,"phi":-3.014,"v":-2.42},{"eta":0.88,"phi":-3.014,"v":-2.45},{"eta":1.005,"phi":-3.014,"v":-2.55},{"eta":1.131,"phi":-3.014,"v":-2.95},{"eta":1.257,"phi":-3.014,"v":-3},{"eta":1.382,"phi":-3.014,"v":-3},{"eta":1.508,"phi":-3.014,"v":-3}
]},
"resolve":{"axis":{"x":"independent","y":"independent"}},
"layer":[
{"data":{"name":"cells"},"mark":{"type":"rect","width":30.1,"height":38.8},"encoding":{
"x":{"field":"eta","type":"quantitative","scale":{"domain":[-1.5708,1.5708],"nice":false,"zero":false},"axis":{"values":[-1.5,-1,-0.5,0,0.5,1,1.5],"format":".1f","labelFont":"DejaVu Sans","labelFontSize":49,"labelColor":"black","labelOverlap":false,"labelFlush":false,"labelPadding":13,"tickSize":-6,"tickColor":"black","domainColor":"#222","grid":false,"zindex":1,"title":"[Translated] Psuedorapidity (𝜂)","titleFont":"DejaVu Sans","titleFontSize":52,"titleFontWeight":"normal","titleColor":"black","titleY":60,"titleX":371}},
"y":{"field":"phi","type":"quantitative","scale":{"domain":[-3.14,3.14],"nice":false,"zero":false},"axis":{"values":[-3,-2,-1,0,1,2,3],"format":"d","labelFont":"DejaVu Sans","labelFontSize":49,"labelColor":"black","labelOverlap":false,"labelFlush":false,"labelPadding":9,"tickSize":-6,"tickColor":"black","domainColor":"#222","grid":false,"zindex":1,"title":"[Translated] Azimuthal Angle 𝜙","titleFont":"DejaVu Sans","titleFontSize":52,"titleFontWeight":"normal","titleColor":"black","titleX":-82,"titleY":482}},
"color":{"field":"v","type":"quantitative","scale":{"domain":[-3,-2.7,-2.46,-2.22,-2,-1.84,-1.72,-1.58,-1.47,-1.26,-1,-0.7,-0.6,-0.43,-0.28,-0.12,0,0.21,0.4,0.54,0.66,0.82,1],"range":["#00007a","#0008c8","#0020f8","#0a50f8","#2e78f5","#3f9cf5","#50b8fa","#62dafa","#7cfae0","#82fbb8","#9dfb80","#c8fb58","#e0fb50","#f8f44e","#fad048","#f5b040","#f09035","#ef6c2c","#ee4c28","#ec3824","#c82818","#a01c10","#741208"],"interpolate":"rgb"},"legend":{"type":"gradient","orient":"none","legendX":790,"legendY":0,"zindex":-1,"direction":"vertical","title":null,"gradientLength":961,"gradientThickness":48,"values":[-3,-2,-1,0,1],"labelExpr":"'10'","format":"d","labelFont":"DejaVu Sans","labelFontSize":48,"labelColor":"black","labelOffset":10,"labelOverlap":false,"labelBaseline":"middle","gradientStrokeColor":"#222","gradientStrokeWidth":1,"encoding":{"labels":{"baseline":{"value":"middle"}}}}}}},
{"data":{"values":[{"t":"-3","eta":2.267,"phi":-3.075},{"t":"-2","eta":2.267,"phi":-1.507},{"t":"-1","eta":2.267,"phi":0.069},{"t":"0","eta":2.28,"phi":1.637}]},"mark":{"type":"text","font":"DejaVu Sans","fontSize":34,"align":"left","baseline":"alphabetic","color":"black"},"encoding":{"x":{"field":"eta","type":"quantitative","axis":null},"y":{"field":"phi","type":"quantitative","axis":null},"text":{"field":"t"}}},
{"data":{"values":[{"t":"Delphes","eta":-1.529,"phi":3.108},{"t":"of 8:","eta":-0.285,"phi":3.108},{"t":"W","eta":0.491,"phi":3.108},{"t":"(WZ","eta":0.964,"phi":3.108}]},"mark":{"type":"text","font":"DejaVu Sans","fontSize":62,"align":"left","baseline":"alphabetic","color":"black"},"encoding":{"x":{"field":"eta","type":"quantitative","axis":null},"y":{"field":"phi","type":"quantitative","axis":null},"text":{"field":"t"}}},
{"data":{"values":[{"a":-1.7,"b":2.5,"c":3.206,"d":3.4}]},"mark":{"type":"rect","color":"white"},"encoding":{"x":{"field":"a","type":"quantitative","axis":null},"x2":{"field":"b"},"y":{"field":"c","type":"quantitative","axis":null},"y2":{"field":"d"}}},
{"data":{"values":[{"t":"W Boson","eta":-0.025,"phi":2.4}]},"mark":{"type":"text","font":"Liberation Sans","fontWeight":"bold","fontSize":85,"align":"center","baseline":"alphabetic","color":"black"},"encoding":{"x":{"field":"eta","type":"quantitative","axis":{"orient":"top","labels":false,"title":null,"values":[-1.5,-1,-0.5,0,0.5,1,1.5],"tickSize":-6,"tickColor":"black","domainColor":"#222","grid":false,"zindex":1}},"y":{"field":"phi","type":"quantitative","axis":{"orient":"right","labels":false,"title":null,"values":[-3,-2,-1,0,1,2,3],"tickSize":-6,"tickColor":"black","domainColor":"#222","grid":false,"zindex":1}},"text":{"field":"t"}}}
]}
